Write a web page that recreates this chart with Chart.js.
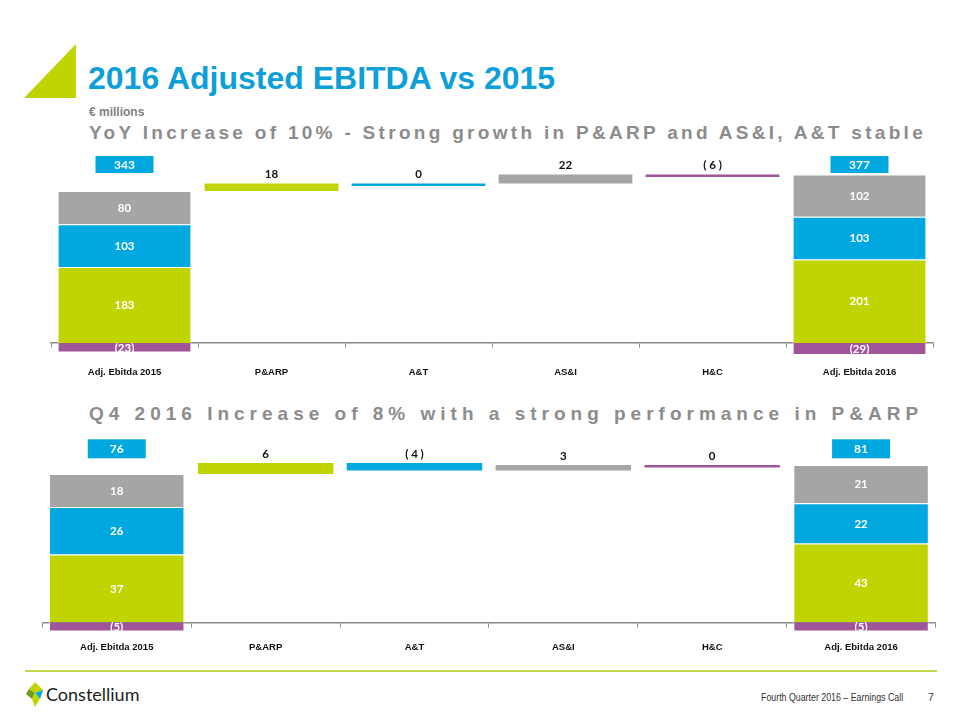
<!DOCTYPE html>
<html>
<head>
<meta charset="utf-8">
<script src="https://cdn.jsdelivr.net/npm/chart.js@4.4.1/dist/chart.umd.min.js"></script>
<style>
  html, body { margin: 0; padding: 0; background: #fff; }
  body { width: 960px; height: 720px; position: relative; overflow: hidden; font-family: 'Liberation Sans', Arial, sans-serif; }
  .abs { position: absolute; white-space: nowrap; }
  #title { left: 88px; top: 62px; font-size: 32px; font-weight: bold; color: #0D9FD8; line-height: 32px; }
  #unit { left: 89px; top: 105px; font-size: 12px; font-weight: bold; color: #7F7F7F; line-height: 14px; }
  #sub1 { left: 89px; top: 122px; font-size: 19px; font-weight: bold; color: #8C8C8C; letter-spacing: 3.3px; line-height: 22px; }
  #sub2 { left: 89px; top: 403px; font-size: 19px; font-weight: bold; color: #8C8C8C; letter-spacing: 5px; line-height: 22px; }
  #rule { left: 25px; top: 670px; width: 912px; height: 1.5px; background: #C5D84A; }
  #brand { left: 46px; top: 683px; font-family: Lato, 'Noto Sans', sans-serif; font-size: 18px; color: #1d1d1b; line-height: 22px; }
  #foot { left: 761px; top: 691px; font-size: 10.5px; color: #333; line-height: 13px; transform: scaleX(0.84); transform-origin: 0 0; }
  #page { left: 928px; top: 691px; font-size: 10.5px; color: #333; line-height: 13px; }
  canvas { position: absolute; left: 0; }
  #c1 { top: 140px; }
  #c2 { top: 425px; }
</style>
</head>
<body>
<svg class="abs" style="left:0;top:0" width="100" height="110">
  <polygon points="24,98 76,44 76,98" fill="#BFD400"/>
</svg>
<div id="title" class="abs">2016 Adjusted EBITDA vs 2015</div>
<div id="unit" class="abs">€ millions</div>
<div id="sub1" class="abs">YoY Increase of 10% - Strong growth in P&amp;ARP and AS&amp;I, A&amp;T stable</div>
<div id="sub2" class="abs">Q4 2016 Increase of 8% with a strong performance in P&amp;ARP</div>
<canvas id="c1" width="960" height="250"></canvas>
<canvas id="c2" width="960" height="235"></canvas>
<div id="rule" class="abs"></div>
<svg class="abs" style="left:26px;top:682px" width="20" height="26">
  <polygon points="9,0 17,8 9,11 3,7" fill="#BFD400"/>
  <polygon points="9,11 17,8 14,17" fill="#00A8DF"/>
  <polygon points="3,7 9,11 6,17 0,12" fill="#6E9E1E"/>
  <polygon points="6,17 9,11 14,17 9,25" fill="#BFD400"/>
</svg>
<div id="brand" class="abs">Constellium</div>
<div id="foot" class="abs">Fourth Quarter 2016 – Earnings Call</div>
<div id="page" class="abs">7</div>

<script>
// ---- data ----
const categories = ['Adj. Ebitda 2015', 'P&ARP', 'A&T', 'AS&I', 'H&C', 'Adj. Ebitda 2016'];
const segments = ['P&ARP', 'A&T', 'AS&I', 'H&C'];
const segColors = ['#BFD400', '#00A8DF', '#A5A5A5', '#A0559B'];

// Full year (€ millions)
const fy2015 = [183, 103, 80, -23];
const fyDelta = [18, 0, 22, -6];
const fy2016 = [201, 103, 102, -29];

// Q4 (€ millions)
const q42015 = [37, 26, 18, -5];
const q4Delta = [6, -4, 3, 0];
const q42016 = [43, 22, 21, -5];

const sum = a => a.reduce((p, c) => p + c, 0);
const posSum = a => sum(a.filter(v => v > 0));

function buildDatasets(start, deltas, end) {
  const n = categories.length;
  let level = posSum(start);
  const stackRange = (arr, s) => {
    const v = arr[s];
    if (v < 0) return [v, 0];
    const below = posSum(arr.slice(0, s));
    return [below, below + v];
  };
  return segments.map((name, s) => {
    const data = new Array(n).fill(null);
    const raw = new Array(n).fill(null);
    data[0] = stackRange(start, s); raw[0] = start[s];
    data[n - 1] = stackRange(end, s); raw[n - 1] = end[s];
    data[s + 1] = [level, level + deltas[s]]; raw[s + 1] = deltas[s];
    level += deltas[s];
    return {
      label: name,
      data,
      rawValues: raw,
      backgroundColor: segColors[s],
      borderColor: 'rgba(255,255,255,0.8)',
      borderWidth: c => (c.dataIndex === 0 || c.dataIndex === n - 1) ? 1 : 0,
      minBarLength: 2.5,
      grouped: false,
      barPercentage: 0.91,
      categoryPercentage: 1
    };
  });
}

const labelPlugin = {
  id: 'wfLabels',
  afterDatasetsDraw(chart, args, opts) {
    const ctx = chart.ctx;
    const n = categories.length;
    ctx.save();
    ctx.textAlign = 'center';
    ctx.textBaseline = 'middle';
    chart.data.datasets.forEach((ds, di) => {
      const meta = chart.getDatasetMeta(di);
      meta.data.forEach((el, i) => {
        if (ds.data[i] === null) return;
        const p = el.getProps(['x', 'y', 'base'], true);
        const v = ds.rawValues[i];
        ctx.font = 'bold 11.5px Lato, "Open Sans", sans-serif';
        if (i === 0 || i === n - 1) {
          ctx.fillStyle = '#ffffff';
          ctx.fillText(v < 0 ? '(' + (-v) + ')' : String(v), p.x, (p.y + p.base) / 2 + 0.5);
        } else {
          ctx.fillStyle = '#111111';
          ctx.fillText(v < 0 ? '( ' + (-v) + ' )' : String(v), p.x, Math.min(p.y, p.base) - 9);
        }
      });
    });
    // total boxes
    const area = chart.chartArea;
    opts.totals.forEach((t, k) => {
      const idx = k === 0 ? 0 : n - 1;
      const el = chart.getDatasetMeta(0).data[idx];
      const w = 58, h = opts.boxH;
      const top = area.top + opts.boxOffset;
      ctx.fillStyle = '#00A8DF';
      ctx.fillRect(el.x - w / 2, top, w, h);
      ctx.fillStyle = '#ffffff';
      ctx.font = 'bold 12px Lato, "Open Sans", sans-serif';
      ctx.fillText(String(t), el.x, top + h / 2 + 0.5);
    });
    ctx.restore();
  }
};

function makeChart(id, start, deltas, end, yMin, yMax, pad, tickPad, boxOffset, boxH) {
  return new Chart(document.getElementById(id), {
    type: 'bar',
    data: { labels: categories, datasets: buildDatasets(start, deltas, end) },
    options: {
      responsive: false,
      animation: false,
      devicePixelRatio: 1,
      layout: { padding: pad },
      plugins: {
        legend: { display: false },
        tooltip: { enabled: false },
        wfLabels: { totals: [sum(start), sum(end)], boxOffset, boxH }
      },
      scales: {
        y: { display: false, min: yMin, max: yMax },
        x: {
          position: { y: 0 },
          z: 1,
          grid: { display: true, drawOnChartArea: false, drawTicks: true, tickLength: 4, offset: true, color: '#8A8A8A', lineWidth: 1 },
          border: { display: true, color: '#8A8A8A', width: 1.5 },
          ticks: { padding: tickPad, color: '#111111', autoSkip: false, maxRotation: 0,
                   font: { family: "'Liberation Sans', Arial, sans-serif", size: 9.5, weight: 'bold' } }
        }
      }
    },
    plugins: [labelPlugin]
  });
}

makeChart('c1', fy2015, fyDelta, fy2016, -35, 465, { left: 51, right: 27, top: 10, bottom: 32.5 }, 20, 6, 17);
makeChart('c2', q42015, q4Delta, q42016, -10, 100, { left: 42.3, right: 24.5, top: 14.3, bottom: 19.4 }, 15, 0, 19);
</script>
</body>
</html>
